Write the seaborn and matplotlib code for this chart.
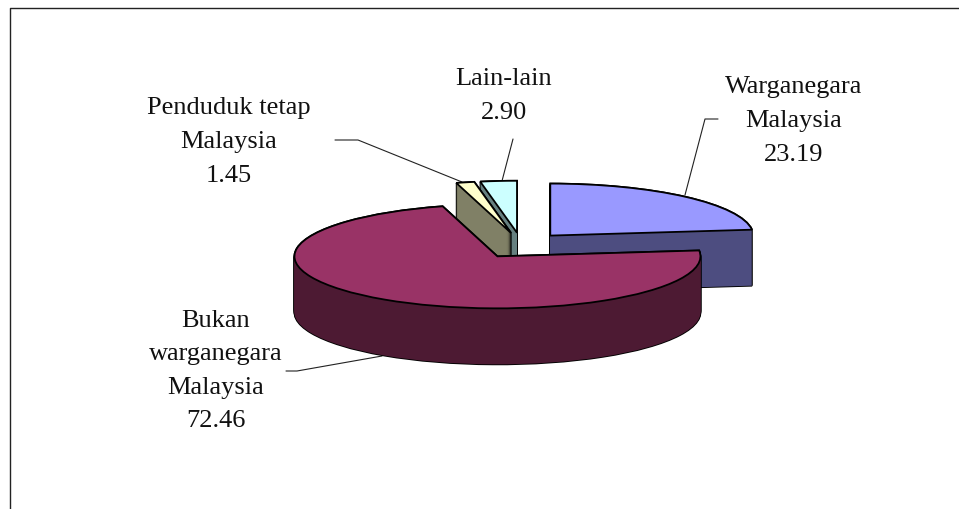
import matplotlib
matplotlib.use('Agg')
import matplotlib.pyplot as plt
import seaborn as sns

# data
categories = ['Warganegara\nMalaysia', 'Bukan\nwarganegara\nMalaysia', 'Penduduk tetap\nMalaysia', 'Lain-lain']
values = [23.19, 72.46, 1.45, 2.90]
top_colors = ['#9999FF', '#993366', '#FFFFCC', '#CCFFFF']
wall_colors = ['#4D4D80', '#4D1A33', '#808066', '#668080']
draw_rank = [0, 3, 2, 1]  # back to front
nudge = [(0, 0), (1, 3), (0, 0), (0, 0)]  # explosion in the original is not quite radial

label_pos = [(794, 121), (216, 371), (229, 142), (504, 96)]
leaders = [[(685, 196), (705, 120), (718, 120)],
           [(382, 357), (297, 372), (286, 372)],
           [(462, 183), (358, 141), (335, 141)],
           [(502, 182), (513, 140)]]

W, H = 959, 510
RX, RY = 203, 52
DEPTH = 56
EXPLODE = 44
k = RX / RY  # vertical squash of the pie


def py(y):
    return -y * k


sns.set_theme(style='white')
plt.rcParams['font.family'] = ['Liberation Serif', 'DejaVu Sans']

fig = plt.figure(figsize=(W / 100, H / 100), dpi=100)
ax = fig.add_axes([0, 0, 1, 1])


def layer(depth, colors, edge, lw, z):
    wedges, _ = ax.pie(values, explode=[EXPLODE] * 4, startangle=90, counterclock=False,
                       radius=RX, center=(521, py(245 + depth)), colors=colors,
                       wedgeprops=dict(edgecolor=edge, linewidth=lw))
    for w, r, (nx, ny) in zip(wedges, draw_rank, nudge):
        w.set_center((w.center[0] + nx, w.center[1] + py(ny)))
        w.set_zorder(r * 10 + z)


for d in range(0, DEPTH + 1):
    layer(d, wall_colors, 'black', 1.3, 1)  # gives the outline of the side
for d in range(0, DEPTH + 1):
    layer(d, wall_colors, 'none', 0, 2)
layer(0, top_colors, 'black', 1.3, 3)

for name, val, (x, y) in zip(categories, values, label_pos):
    ax.text(x, py(y), f'{name}\n{val:.2f}', ha='center', va='center', fontsize=19,
            color='#111111', linespacing=1.68, zorder=50)

for pts in leaders:
    ax.plot([p[0] for p in pts], [py(p[1]) for p in pts], color='#222222', lw=0.8, zorder=0.5)

# chart border: only left and top show, the rest is cut off
ax.plot([9.5, 9.5, W + 5], [py(H + 5), py(8.5), py(8.5)], color='#222222', lw=1.0, zorder=60)

ax.set_aspect('auto')
ax.set_xlim(0, W)
ax.set_ylim(py(H), 0)
ax.set_axis_off()
fig.savefig('out.png', dpi=100, facecolor='white')
